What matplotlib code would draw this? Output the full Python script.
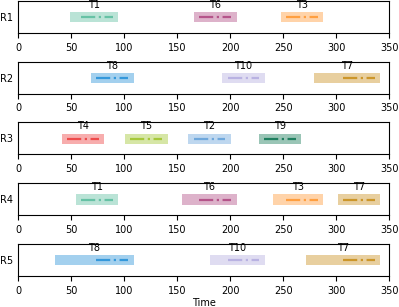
import matplotlib
matplotlib.use("Agg")
import matplotlib.pyplot as plt

# resources (rows) and the tasks scheduled on each
resources = ["R1", "R2", "R3", "R4", "R5"]
tasks = [["T1", "T6", "T3"],
         ["T8", "T10", "T7"],
         ["T4", "T5", "T2", "T9"],
         ["T1", "T6", "T3", "T7"],
         ["T8", "T10", "T7"]]
# time the task becomes available (left edge of the shaded bar)
ready = [[49, 166, 247.5],
         [69, 192.5, 278.5],
         [41.5, 101, 160.5, 227],
         [54.5, 155, 240.5, 301.5],
         [35, 180.5, 271]]
# processing start / end
start = [[54.5, 166, 247.5],
         [69, 192.5, 301.5],
         [41.5, 101, 160.5, 227],
         [54.5, 166, 247.5, 301.5],
         [69, 192.5, 301.5]]
end = [[94.5, 206, 287.5],
       [109, 232.5, 341.5],
       [81.5, 141, 200.5, 267],
       [94.5, 206, 287.5, 341.5],
       [109, 232.5, 341.5]]

colors = {"T1": "#66c2a5", "T2": "#6fa8dc", "T3": "#ff9f40", "T4": "#ee4b4b",
          "T5": "#a6c83a", "T6": "#b5548a", "T7": "#cc962a", "T8": "#3498db",
          "T9": "#1f7f5f", "T10": "#b9b2e2"}

plt.rcParams["font.size"] = 7

fig, axes = plt.subplots(len(resources), 1, figsize=(3.99, 3.07), dpi=100)
fig.subplots_adjust(left=0.045, right=0.976, top=0.997, bottom=0.101, hspace=0.9)

inset = 5
for i, ax in enumerate(axes):
    for name, r, s, e in zip(tasks[i], ready[i], start[i], end[i]):
        c = colors[name]
        ax.broken_barh([(r, e - r)], (0.33, 0.32), facecolors=c, alpha=0.45)
        ax.plot([s + inset, e - inset], [0.49, 0.49], color=c, lw=1.6, ls="-.")
        ax.text((r + e) / 2, 0.72, name, ha="center", va="bottom", fontsize=7)
    ax.set_xlim(0, 350)
    ax.set_ylim(0, 1)
    ax.set_yticks([0.5])
    ax.set_yticklabels([resources[i]])
    ax.tick_params(axis="y", length=0)
    ax.set_xticks(range(0, 351, 50))

axes[-1].set_xlabel("Time", labelpad=2)
fig.savefig("out.png", dpi=100)
